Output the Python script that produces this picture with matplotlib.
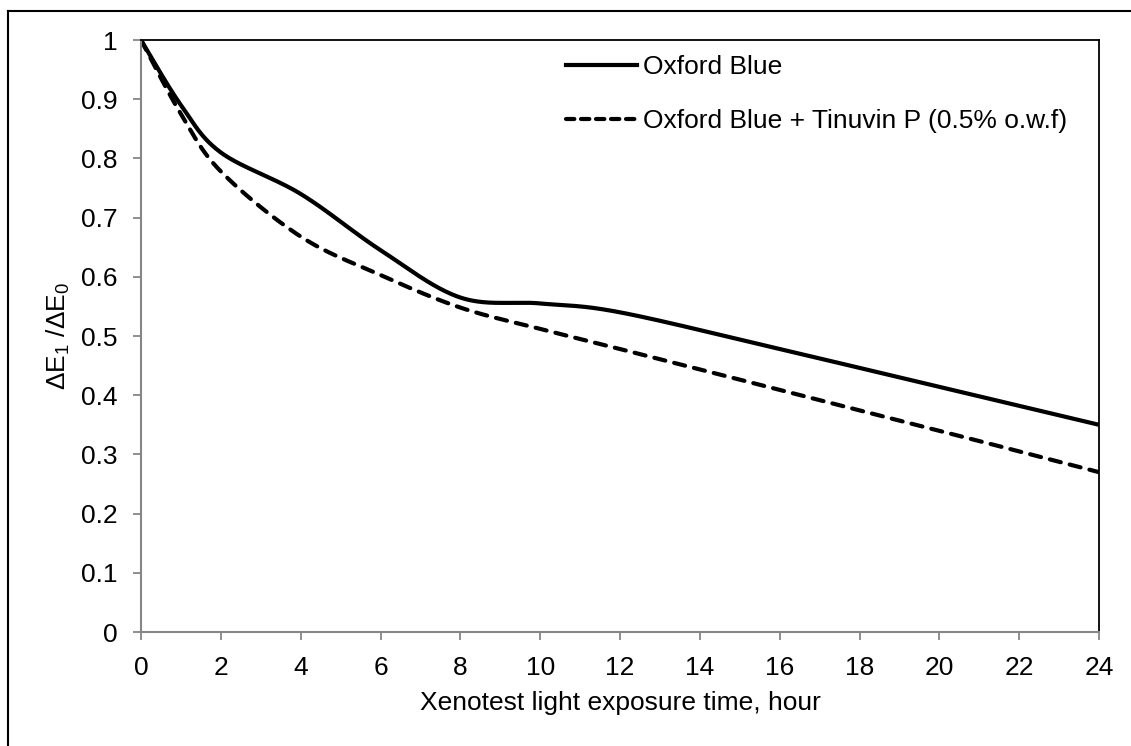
import numpy as np
import matplotlib.pyplot as plt
from matplotlib.lines import Line2D

plt.rcParams['font.family'] = ['Liberation Sans', 'DejaVu Sans']
plt.rcParams['mathtext.fontset'] = 'custom'
plt.rcParams['mathtext.rm'] = 'Liberation Sans'
plt.rcParams['mathtext.it'] = 'Liberation Sans:italic'

# data
hours = [0, 1, 2, 4, 6, 8, 10, 12, 16, 20, 24]
oxford_blue = [1.0, 0.89, 0.81, 0.74, 0.645, 0.565, 0.555, 0.54, 0.478, 0.414, 0.35]
oxford_tinuvin = [1.0, 0.875, 0.778, 0.668, 0.603, 0.548, 0.512, 0.478, 0.409, 0.34, 0.27]

x_ticks = list(range(0, 25, 2))
y_ticks = [0, 0.1, 0.2, 0.3, 0.4, 0.5, 0.6, 0.7, 0.8, 0.9, 1]
y_tick_labels = ['0', '0.1', '0.2', '0.3', '0.4', '0.5', '0.6', '0.7', '0.8', '0.9', '1']

labels = ['Oxford Blue', 'Oxford Blue + Tinuvin P (0.5% o.w.f)']


def smooth(xs, ys, n=40):
    # Excel-like smoothed line: cubic bezier through the points
    p = np.column_stack([xs, ys]).astype(float)
    pts = []
    for i in range(len(p) - 1):
        p0 = p[i - 1] if i > 0 else p[i]
        p3 = p[i + 2] if i + 2 < len(p) else p[i + 1]
        c1 = p[i] + (p[i + 1] - p0) / 6.0
        c2 = p[i + 1] - (p3 - p[i]) / 6.0
        t = np.linspace(0, 1, n)[:, None]
        seg = ((1 - t) ** 3) * p[i] + 3 * ((1 - t) ** 2) * t * c1 \
            + 3 * (1 - t) * t ** 2 * c2 + t ** 3 * p[i + 1]
        pts.append(seg if i == 0 else seg[1:])
    pts = np.vstack(pts)
    return pts[:, 0], pts[:, 1]


fig = plt.figure(figsize=(11.31, 7.46), dpi=100)
ax = fig.add_axes([141 / 1131, 114 / 746, 958 / 1131, 592 / 746])

LW = 3.0
sx, sy = smooth(hours, oxford_blue)
ax.plot(sx, sy, color='black', lw=LW, solid_capstyle='round')
dx, dy = smooth(hours, oxford_tinuvin)
ax.plot(dx, dy, color='black', lw=LW, dashes=(2.7, 2.2), dash_capstyle='round')

ax.set_xlim(0, 24)
ax.set_ylim(0, 1)
ax.set_xticks(x_ticks)
ax.set_yticks(y_ticks)
ax.set_yticklabels(y_tick_labels)

for side in ['left', 'bottom']:
    ax.spines[side].set_color('#868686')
    ax.spines[side].set_linewidth(1.5)
for side in ['top', 'right']:
    ax.spines[side].set_color('black')
    ax.spines[side].set_linewidth(1.3)

ax.tick_params(axis='both', direction='out', length=6, width=1.3,
               color='#868686', labelsize=19, pad=11)

ax.set_xlabel('Xenotest light exposure time, hour', fontsize=19, labelpad=8)
ax.set_ylabel(r'ΔE$_{\mathrm{1}}$ /ΔE$_{\mathrm{0}}$', fontsize=19, labelpad=6)

handles = [Line2D([], [], color='black', lw=LW),
           Line2D([], [], color='black', lw=LW, dashes=(2.0, 1.6), dash_capstyle='round')]
fig.legend(handles, labels, loc='upper left', bbox_to_anchor=(566 / 1131, 1 - 55 / 746),
           frameon=False, fontsize=19, handlelength=2.7, handletextpad=0.2,
           labelspacing=1.14, borderaxespad=0, borderpad=0)

# outer border (left and top edges only visible)
fig.add_artist(Line2D([8 / 1131, 8 / 1131], [0, 1 - 11 / 746], color='black', lw=1.5))
fig.add_artist(Line2D([8 / 1131, 1], [1 - 11 / 746, 1 - 11 / 746], color='black', lw=1.5))

fig.savefig('out.png', dpi=100)
